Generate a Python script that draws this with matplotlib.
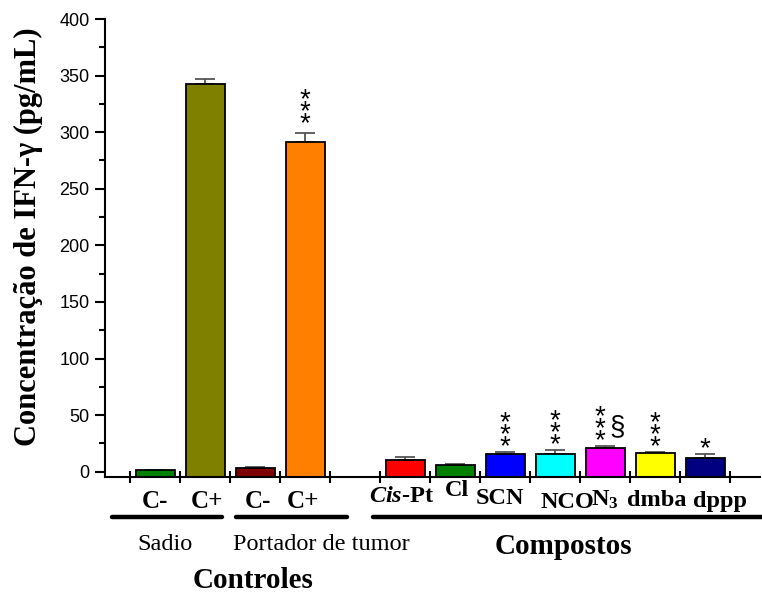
import matplotlib
matplotlib.use("Agg")
import matplotlib.pyplot as plt
import matplotlib.transforms as mtransforms
from matplotlib.ticker import MultipleLocator
import numpy as np

plt.rcParams['mathtext.fontset'] = 'custom'
plt.rcParams['mathtext.rm'] = 'Liberation Serif'
plt.rcParams['mathtext.bf'] = 'Liberation Serif:bold'
plt.rcParams['mathtext.it'] = 'Liberation Serif:italic:bold'

# ---- data ----
control_labels = ["C-", "C+", "C-", "C+"]
control_values = [1.2, 342.5, 3.5, 291.5]
control_errors = [0.6, 4.5, 1.0, 8.0]
control_colors = ["#008000", "#808000", "#800000", "#FF8000"]
control_marks = ["", "", "", "***"]

compound_labels = [r"$\mathit{Cis}$-Pt", "Cl", "SCN", "NCO", r"N$\mathbf{_3}$", "dmba", "dppp"]
compound_values = [10.6, 5.9, 15.8, 15.9, 20.6, 16.3, 12.4]
compound_errors = [2.0, 1.2, 1.5, 3.0, 2.0, 1.0, 3.0]
compound_colors = ["#FF0000", "#008000", "#0000FF", "#00FFFF", "#FF00FF", "#FFFF00", "#000080"]
compound_marks = ["", "", "***", "***", "***", "***", "*"]

group_labels = ["Sadio", "Portador de tumor"]
ylabel = "Concentração de IFN-γ (pg/mL)"

# ---- layout ----
W, H = 762, 594
fig = plt.figure(figsize=(W / 100, H / 100), dpi=100)
ymin, ymax = -4.7, 400
ax = fig.add_axes([105 / W, 1 - 477 / H, (760 - 105) / W, (477 - 19) / H])

pos_ctrl = np.arange(1, len(control_values) + 1)
pos_comp = np.arange(len(control_values) + 2, len(control_values) + 2 + len(compound_values))
positions = np.concatenate([pos_ctrl, pos_comp])
values = np.array(control_values + compound_values)
errors = np.array(control_errors + compound_errors)
colors = control_colors + compound_colors
marks = control_marks + compound_marks

ax.bar(positions, values - ymin, bottom=ymin, width=0.78, color=colors,
       edgecolor="black", linewidth=1.3, zorder=2)
ax.errorbar(positions, values, yerr=[np.zeros_like(errors), errors], fmt="none",
            ecolor="#555555", elinewidth=1.3, capsize=7, capthick=1.3, zorder=1)

ax.set_xlim(0, 13.1)
ax.set_ylim(ymin, ymax)
ax.spines["top"].set_visible(False)
ax.spines["right"].set_visible(False)
for s in ("left", "bottom"):
    ax.spines[s].set_linewidth(1.5)
ax.spines["left"].set_bounds(ymin, ymax)

ax.set_xticks(np.arange(0.5, 13, 1.0))
ax.set_xticklabels([])
ax.tick_params(axis="x", direction="inout", length=8, width=1.5)
ax.yaxis.set_major_locator(MultipleLocator(50))
ax.yaxis.set_minor_locator(MultipleLocator(25))
ax.set_yticks(np.arange(0, 401, 50))
ax.tick_params(axis="y", which="major", direction="out", length=7, width=1.5, pad=4,
               labelsize=13)
ax.tick_params(axis="y", which="minor", direction="out", length=4.5, width=1.5)
for t in ax.get_yticklabels():
    t.set_fontfamily("Liberation Sans")

ax.set_ylabel(ylabel, fontfamily="Liberation Serif", fontweight="bold", fontsize=22)
ax.yaxis.set_label_coords(-0.094, 0.525)

# significance marks: stacked asterisks (one multi-line text per bar)
for x, v, e, m in zip(positions, values, errors, marks):
    if not m:
        continue
    is_n3 = x == pos_comp[4]
    dx = -3.6 if is_n3 else 0
    base = -3.5 if x == pos_ctrl[3] else -6.0
    ax.annotate("\n".join(m), xy=(x, v + e), xytext=(dx, base),
                textcoords="offset points", ha="center", va="bottom",
                fontsize=20, fontfamily="Liberation Sans", linespacing=0.31)
    if is_n3:
        ax.annotate("§", xy=(x, v + e), xytext=(8.5, 4), textcoords="offset points",
                    ha="center", va="bottom", fontsize=20, fontfamily="Liberation Sans")

# category labels below axis
trans = mtransforms.blended_transform_factory(ax.transData, fig.transFigure)
def fy(px):
    return 1 - px / H

ctrl_dx = [0, 0.04, 0.06, -0.04]
for x, lab, d in zip(pos_ctrl, control_labels, ctrl_dx):
    ax.text(x + d, fy(502), lab, transform=trans, ha="center", va="center",
            fontfamily="Liberation Serif", fontweight="bold", fontsize=18)
comp_dx = [-0.06, 0.04, -0.1, 0.24, 0.0, 0.04, 0.3]
comp_dy = [497, 490, 498, 503, 500, 500, 502]
for x, lab, d, yy in zip(pos_comp, compound_labels, comp_dx, comp_dy):
    ax.text(x + d, fy(yy), lab, transform=trans, ha="center", va="center",
            fontfamily="Liberation Serif", fontweight="bold", fontsize=17.5)

# group underline bars
line_kw = dict(color="black", linewidth=3.2, solid_capstyle="round", clip_on=False,
               transform=trans)
ax.plot([0.14, 2.34], [fy(517), fy(517)], **line_kw)
ax.plot([2.62, 4.84], [fy(517), fy(517)], **line_kw)
ax.plot([5.36, 13.3], [fy(517), fy(517)], **line_kw)

ax.text(1.2, fy(544), group_labels[0], transform=trans, ha="center", va="center",
        fontfamily="Liberation Serif", fontsize=17.5)
ax.text(4.32, fy(544), group_labels[1], transform=trans, ha="center", va="center",
        fontfamily="Liberation Serif", fontsize=17.5)
ax.text(9.16, fy(546), "Compostos", transform=trans, ha="center", va="center",
        fontfamily="Liberation Serif", fontweight="bold", fontsize=21)
ax.text(2.96, fy(580), "Controles", transform=trans, ha="center", va="center",
        fontfamily="Liberation Serif", fontweight="bold", fontsize=21)

fig.savefig("out.png", dpi=100)
